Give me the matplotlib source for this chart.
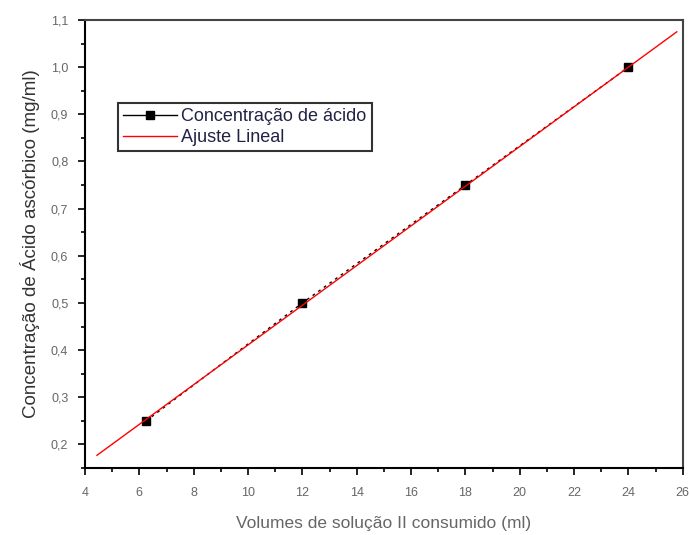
import matplotlib.pyplot as plt
from matplotlib.ticker import MultipleLocator

plt.rcParams['font.family'] = ['Liberation Sans', 'DejaVu Sans']

# measured points
volume = [6.25, 12.0, 18.0, 24.0]
conc = [0.25, 0.50, 0.75, 1.00]

# linear fit line (end points)
fit_x = [4.44, 25.78]
fit_y = [0.177, 1.075]

yticks = [0.2, 0.3, 0.4, 0.5, 0.6, 0.7, 0.8, 0.9, 1.0, 1.1]

fig = plt.figure(figsize=(6.89, 5.35), dpi=100)
ax = fig.add_axes([0.1234, 0.1252, 0.8676, 0.8374])

ax.plot(volume, conc, color="black", lw=1.0, ls=(0, (2, 3)), marker="s", ms=6,
        mec="black", mfc="black", label="Concentração de ácido", zorder=2)
ax.plot(fit_x, fit_y, color="red", lw=1.0, label="Ajuste Lineal", zorder=3)

ax.set_xlim(4, 26)
ax.set_ylim(0.15, 1.1)
ax.xaxis.set_major_locator(MultipleLocator(2))
ax.xaxis.set_minor_locator(MultipleLocator(1))
ax.yaxis.set_minor_locator(MultipleLocator(0.05))
ax.set_yticks(yticks)
ax.set_yticklabels([f"{v:.1f}".replace('.', ',') for v in yticks])

ax.tick_params(which='major', direction='out', length=5, width=1.2,
               labelsize=9, labelcolor='#666666', top=False, right=False)
ax.tick_params(axis='x', which='major', pad=9)
ax.tick_params(axis='y', which='major', pad=7)
ax.tick_params(which='minor', direction='out', length=3, width=1.2,
               top=False, right=False)
for s in ax.spines.values():
    s.set_linewidth(1.5)
ax.spines['top'].set_color('#444444')
ax.spines['right'].set_color('#444444')

ax.set_xlabel("Volumes de solução II consumido (ml)", fontsize=12.5,
              color='#666666', labelpad=12)
ax.set_ylabel("Concentração de Ácido ascórbico (mg/ml)", fontsize=13.5,
              color='#333333', labelpad=8)

# the legend handle for the first series is drawn solid
leg = ax.legend(loc='upper left', bbox_to_anchor=(0.055, 0.815), fontsize=13,
                frameon=True, fancybox=False, edgecolor='black',
                borderaxespad=0, handlelength=3.0, handletextpad=0.2,
                borderpad=0.3, labelspacing=0.2,
                labelcolor=['#222244', '#222244'])
leg.get_frame().set_linewidth(1.5)
leg.get_lines()[0].set_linestyle('-')

fig.savefig("out.png", dpi=100)
